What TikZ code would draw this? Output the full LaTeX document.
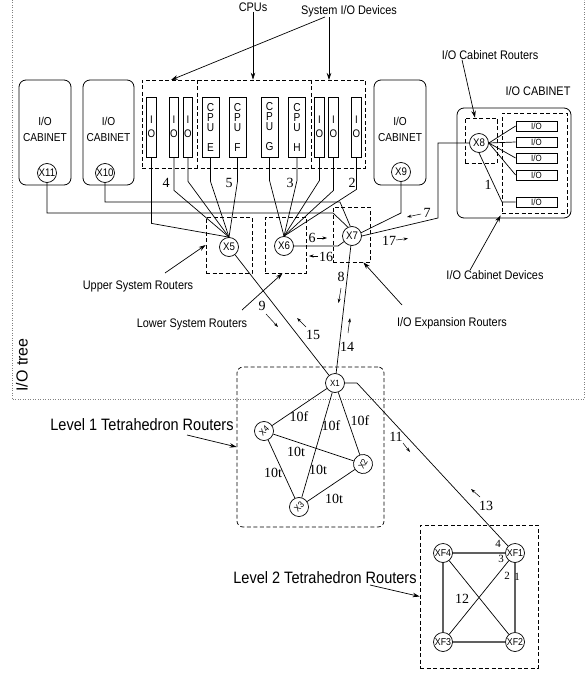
\documentclass[tikz,border=0pt]{standalone}
\usepackage{fontspec}
\setmainfont{Liberation Serif}
\newfontfamily\sansN[FakeStretch=0.88]{Liberation Sans}
\newfontfamily\sansW{Liberation Sans}
\usetikzlibrary{arrows.meta,calc}

\begin{document}
\begin{tikzpicture}[x=1pt,y=-1pt,
  wire/.style={line width=0.7pt},
  dbox/.style={draw, dash pattern=on 4pt off 2.5pt, line width=0.7pt, inner sep=0pt},
  cab/.style={draw, rounded corners=7pt, line width=0.8pt, inner sep=0pt},
  rtr/.style={draw, circle, minimum size=19pt, inner sep=0pt, line width=0.7pt,
              font=\sansN\fontsize{11}{12}\selectfont},
  trtr/.style={rtr, font=\sansN\fontsize{9}{10}\selectfont},
  frtr/.style={rtr, font=\sansN\fontsize{10}{11}\selectfont},
  dev/.style={draw, line width=0.8pt, minimum width=9.5pt, minimum height=60pt, inner sep=0pt,
              align=center, font=\sansN\fontsize{11}{14}\selectfont},
  cpu/.style={dev, minimum width=17pt, font=\sansN\fontsize{11.5}{10}\selectfont},
  cdev/.style={draw, line width=0.8pt, minimum width=41pt, minimum height=10pt, inner sep=0pt,
               font=\sansN\fontsize{9}{10}\selectfont},
  lbl/.style={inner sep=0pt, font=\sansN\fontsize{12.4}{14}\selectfont},
  biglbl/.style={inner sep=0pt, font=\sansN\fontsize{16.5}{18}\selectfont},
  cablbl/.style={inner sep=0pt, align=center, font=\sansN\fontsize{11.5}{16}\selectfont},
  num/.style={inner sep=0pt, font=\fontsize{14}{16}\selectfont},
  snum/.style={inner sep=0pt, font=\fontsize{11}{12}\selectfont},
  arr/.style={wire, -{Stealth[length=7pt,width=4.5pt]}},
  sarr/.style={line width=0.5pt, -{Stealth[length=4.5pt,width=3pt]}},
  treeframe/.style={gray, line width=0.7pt, dash pattern=on 0.8pt off 1.7pt},
  square/.style={gray!75!black, line width=1.3pt}
]
\useasboundingbox (0,0) rectangle (586,674);

% ---------- I/O tree frame ----------
\draw[treeframe] (12,0) -- (12,399) -- (584,399) -- (584,0);
\node[inner sep=0pt, rotate=90, font=\sansW\fontsize{16}{18}\selectfont] (treelbl) at (22,365) {I/O tree};

% ---------- left cabinets ----------
\node[cab, minimum width=52pt, minimum height=105pt] (cab11) at (45,132.5) {};
\node[cablbl] (cab11t) at (45,129) {I/O\\CABINET};
\node[rtr] (x11) at (47,173) {X11};
\node[cab, minimum width=51pt, minimum height=105pt] (cab10) at (108.5,132.5) {};
\node[cablbl] (cab10t) at (108.5,129) {I/O\\CABINET};
\node[rtr] (x10) at (105,173) {X10};
\node[cab, minimum width=52pt, minimum height=105pt] (cab9) at (400,132.5) {};
\node[cablbl] (cab9t) at (400,129) {I/O\\CABINET};
\node[rtr] (x9) at (401,172) {X9};

% ---------- right cabinet ----------
\node[cab, minimum width=114pt, minimum height=110pt] (cabR) at (514,163) {};
\node[lbl] (cabRt) at (538,91) {I/O CABINET};
\node[dbox, minimum width=32pt, minimum height=45pt] (x8box) at (481,140.5) {};
\node[dbox, minimum width=65pt, minimum height=100pt] (devbox) at (534.5,163) {};
\node[rtr] (x8) at (479,143) {X8};
\node[cdev] (d1) at (536.5,126) {I/O};
\node[cdev] (d2) at (536.5,142) {I/O};
\node[cdev] (d3) at (536.5,158) {I/O};
\node[cdev] (d4) at (536.5,175) {I/O};
\node[cdev] (d5) at (536.5,202) {I/O};
\foreach \d in {d1,d2,d3,d4} \draw[wire] (x8.east) -- (\d.west);
\draw[wire] (x8.south) -- (502,202) -- (d5.west);
\node[num] (n1) at (488,185) {1};

% ---------- system devices ----------
\node[dbox, minimum width=223pt, minimum height=88pt] (grp) at (253.5,124) {};
\draw[dbox] (197,80) -- (197,168);
\draw[dbox] (311.5,80) -- (311.5,168);
\node[dev] (io1) at (151.5,127) {I\\O};
\node[dev] (io2) at (174,127) {I\\O};
\node[dev] (io3) at (188,127) {I\\O};
\node[cpu] (cE) at (210.5,127) {C\\P\\U\\[10pt]E};
\node[cpu] (cF) at (237.5,127) {C\\P\\U\\[10pt]F};
\node[cpu] (cG) at (269.5,127) {C\\P\\U\\[10pt]G};
\node[cpu] (cH) at (297,127) {C\\P\\U\\[10pt]H};
\node[dev] (io4) at (319.5,127) {I\\O};
\node[dev] (io5) at (333.5,127) {I\\O};
\node[dev] (io6) at (356.5,127) {I\\O};

\node[num] (n4) at (166,183) {4};
\node[num] (n5) at (229,183) {5};
\node[num] (n3) at (290,183) {3};
\node[num] (n2) at (352,183) {2};

% ---------- system routers ----------
\node[dbox, minimum width=46pt, minimum height=56pt] (x5box) at (229,245) {};
\node[dbox, minimum width=41pt, minimum height=56pt] (x6box) at (285.5,245) {};
\node[dbox, minimum width=37pt, minimum height=55pt] (x7box) at (351.5,234.5) {};
\node[rtr, fill=white] (x5) at (229,247) {X5};
\node[rtr, fill=white] (x6) at (284,246) {X6};
\node[rtr, fill=white] (x7) at (352,236) {X7};

\draw[wire] (io1.south) -- ++(0,66) -- (x5.north);
\draw[wire] (io2.south) -- ++(0,33) -- (x5.north);
\draw[wire] (io3.south) -- ++(0,24) -- (x5.north);
\draw[wire] (cE.south) -- ++(0,24) -- (x5.north);
\draw[wire] (cF.south) -- ++(0,24) -- (x5.north);
\draw[wire] (cG.south) -- ++(0,23) -- (x6.north);
\draw[wire] (cH.south) -- ++(0,23) -- (x6.north);
\draw[wire] (io4.south) -- ++(0,23) -- (x6.north);
\draw[wire] (io5.south) -- ++(0,33) -- (x6.north);
\draw[wire] (io6.south) -- ++(0,32) -- (x6.north);

\draw[wire] (x11.south) |- (333,213) -- (x7.115);
\draw[wire] (x10.south) |- (340,202) -- (x7.100);
\draw[wire] (x6.east) -- (338,246) -- (x7.215);
\draw[wire] (x9.south) -- (401,213) -- (x7.20);
\draw[wire] (x8.west) -| (438,218) -- (x7.east);

% flow markers around the routers
\node[num] (n6) at (312,238) {6};
\draw[sarr] (317,238) -- (327,238);
\node[num] (n16) at (326,257) {16};
\draw[sarr] (318,256) -- (309,256);
\node[num] (n17) at (389,241) {17};
\draw[sarr] (396,240) -- (408,238.5);
\node[num] (n7) at (427,213) {7};
\draw[sarr] (421,214) -- (407,217);
\node[num] (n8) at (341,277) {8};
\draw[sarr] (341,288) -- (338.5,303);
\node[num] (n14) at (347,347) {14};
\draw[sarr] (348,333) -- (350,318);
\node[num] (n9) at (262,306) {9};
\draw[sarr] (266,314) -- (278,327);
\node[num] (n15) at (313,335) {15};
\draw[sarr] (306,327) -- (297,318);

% ---------- level 1 tetrahedron ----------
\node[dbox, rounded corners=6pt, minimum width=147pt, minimum height=160pt] (t1box) at (310.5,447) {};
\node[trtr] (x1) at (335,383) {X1};
\node[trtr, rotate=45] (x4) at (264,431) {X4};
\node[trtr, rotate=60] (x2) at (363,464) {X2};
\node[trtr, rotate=45] (x3) at (299,507) {X3};
\draw[wire] (x1) -- (x4);
\draw[wire] (x1) -- (x3);
\draw[wire] (x1) -- (x2);
\draw[wire] (x4) -- (x2);
\draw[wire] (x4) -- (x3);
\draw[wire] (x3) -- (x2);
\node[num] (e14) at (299,417) {10f};
\node[num] (e13f) at (331,426) {10f};
\node[num] (e12) at (360,421) {10f};
\node[num] (e42) at (296,452) {10t};
\node[num] (e43) at (273,473) {10t};
\node[num] (e13t) at (318,470) {10t};
\node[num] (e32) at (334,499) {10t};

\draw[wire] (x5) -- (x1);
\draw[wire] (x7) -- (x1);

% ---------- level 2 tetrahedron ----------
\node[dbox, minimum width=118pt, minimum height=143pt] (t2box) at (479,596.5) {};
\node[frtr] (xf4) at (443,553) {XF4};
\node[frtr] (xf1) at (515,553) {XF1};
\node[frtr] (xf3) at (443,642) {XF3};
\node[frtr] (xf2) at (515,642) {XF2};
\draw[square] (xf4) -- (xf1);
\draw[square] (xf4) -- (xf3);
\draw[square] (xf1) -- (xf2);
\draw[square] (xf3) -- (xf2);
\draw[wire] (xf4) -- (xf2);
\draw[wire] (xf1) -- (xf3);
\node[snum] (p4) at (498,544) {4};
\node[snum] (p3) at (501,559) {3};
\node[snum] (p2) at (507,576) {2};
\node[snum] (p1) at (517,577) {1};
\node[num] (p12) at (462,599) {12};

\draw[wire] (x1.east) -- (357,383) -- (xf1.north west);
\node[num] (n11) at (396,437) {11};
\draw[sarr] (403,443) -- (410,452);
\node[num] (n13) at (486,506) {13};
\draw[sarr] (480,497) -- (471,489);

% ---------- labels with pointers ----------
\node[lbl] (cpusT) at (253,7) {CPUs};
\draw[arr] (cpusT.south) -- (cpusT.south |- grp.north);
\node[lbl] (sysT) at (349,11) {System I/O Devices};
\coordinate (sysA) at (171,80);
\coordinate (sysB) at (329,80);
\draw[arr] ([xshift=-24pt]sysT.south) -- (sysA);
\draw[arr] ([xshift=-20pt]sysT.south) -- (sysB);

\node[lbl] (cabRouT) at (490,55) {I/O Cabinet Routers};
\draw[arr] ([xshift=-28pt]cabRouT.south) -- ([xshift=-6pt]x8box.north);
\node[lbl] (cabDevT) at (495,275) {I/O Cabinet Devices};
\draw[arr] ([xshift=-25pt]cabDevT.north) -- ([shift={(-1pt,-2pt)}]devbox.south west);

\node[lbl] (upT) at (138,286) {Upper System Routers};
\coordinate (upTail) at (165,273);
\draw[arr] (upTail) -- (x5box.west);
\node[lbl] (lowT) at (192,324) {Lower System Routers};
\coordinate (lowTail) at (242,310);
\draw[arr] (lowTail) -- ([xshift=-3pt]x6box.south);
\node[lbl] (expT) at (452,323) {I/O Expansion Routers};
\coordinate (expTail) at (402,305);
\draw[arr] (expTail) -- ([xshift=-7pt]x7box.south east);

\node[biglbl] (lv1T) at (142,425) {Level 1 Tetrahedron Routers};
\coordinate (lv1Tail) at (187,435);
\draw[arr] (lv1Tail) -- (t1box.west);
\node[biglbl] (lv2T) at (325,578) {Level 2 Tetrahedron Routers};
\coordinate (lv2Tail) at (370,585);
\draw[arr] (lv2Tail) -- (t2box.west);
\end{tikzpicture}
\end{document}
